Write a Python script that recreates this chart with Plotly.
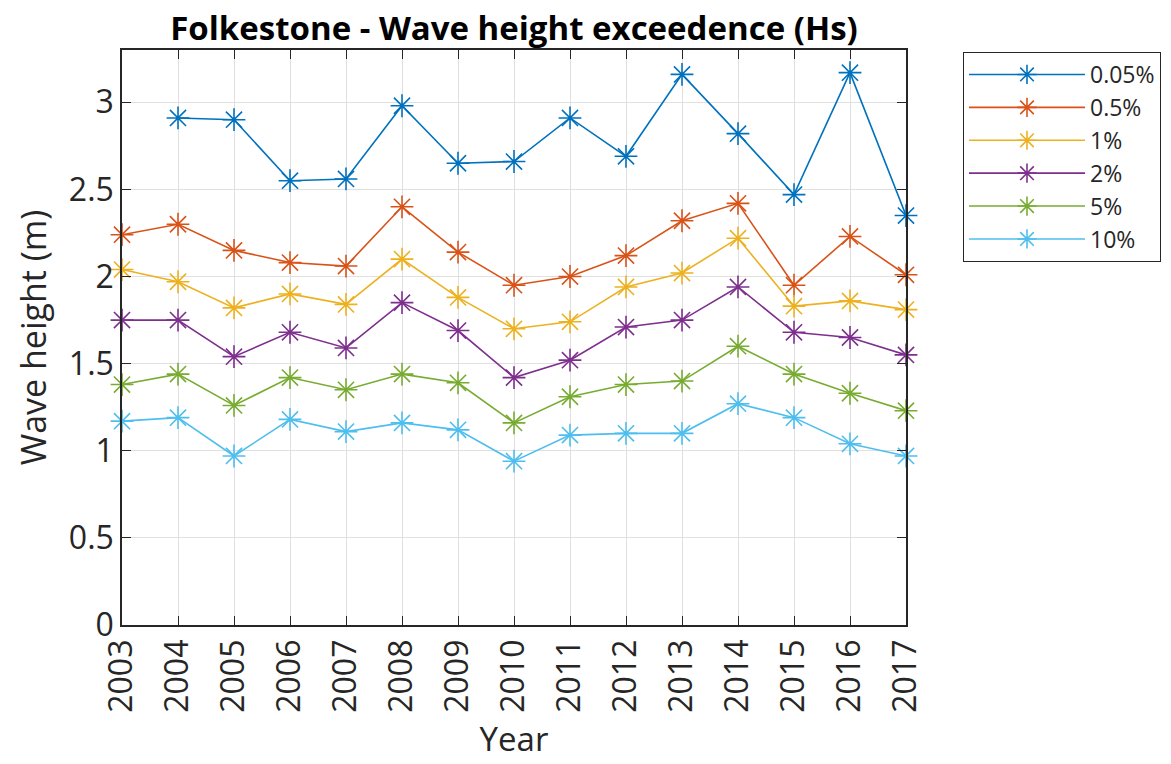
import plotly.graph_objects as go

# Exceedence levels and yearly significant wave heights (m)
years = list(range(2003, 2018))
levels = ["0.05%", "0.5%", "1%", "2%", "5%", "10%"]
hs_0p05 = [None, 2.91, 2.90, 2.55, 2.56, 2.98, 2.65, 2.66, 2.91, 2.69, 3.16, 2.82, 2.47, 3.17, 2.35]
hs_0p5 = [2.24, 2.30, 2.15, 2.08, 2.06, 2.40, 2.14, 1.95, 2.00, 2.12, 2.32, 2.42, 1.95, 2.23, 2.01]
hs_1 = [2.04, 1.97, 1.82, 1.90, 1.84, 2.10, 1.88, 1.70, 1.74, 1.94, 2.02, 2.22, 1.83, 1.86, 1.81]
hs_2 = [1.75, 1.75, 1.54, 1.68, 1.59, 1.85, 1.69, 1.42, 1.52, 1.71, 1.75, 1.94, 1.68, 1.65, 1.55]
hs_5 = [1.38, 1.44, 1.26, 1.42, 1.35, 1.44, 1.39, 1.16, 1.31, 1.38, 1.40, 1.60, 1.44, 1.33, 1.23]
hs_10 = [1.17, 1.19, 0.97, 1.18, 1.11, 1.16, 1.12, 0.94, 1.09, 1.10, 1.10, 1.27, 1.19, 1.04, 0.97]
y_ticks = [0, 0.5, 1, 1.5, 2, 2.5, 3]
y_tick_labels = ["0", "0.5", "1", "1.5", "2", "2.5", "3"]

series = [hs_0p05, hs_0p5, hs_1, hs_2, hs_5, hs_10]
colors = ["#0072BD", "#D95319", "#EDB120", "#7E2F8E", "#77AC30", "#4DBEEE"]

FONT = "'Open Sans', Lato, sans-serif"
AXIS_COLOR = "#262626"

fig = go.Figure()
for i, (name, vals, col) in enumerate(zip(levels, series, colors)):
    fig.add_trace(go.Scatter(
        x=years, y=vals, name=name, mode="lines+markers",
        legendgroup=f"g{i}",
        line=dict(color=col, width=1.6),
        marker=dict(symbol="asterisk-open", size=19, color=col,
                    line=dict(color=col, width=1.6)),
        cliponaxis=False,
    ))

axis_common = dict(
    showline=True, linecolor=AXIS_COLOR, linewidth=1.5, mirror="ticks",
    ticks="inside", ticklen=9, tickwidth=1.2, tickcolor=AXIS_COLOR,
    showgrid=True, gridcolor="#E0E0E0", gridwidth=1, zeroline=False,
    tickfont=dict(family=FONT, size=32, color=AXIS_COLOR),
)

fig.update_xaxes(
    range=[2003, 2017], tickmode="array", tickvals=years,
    ticktext=[str(y) for y in years], tickangle=-90,
    title=dict(text="Year", font=dict(family=FONT, size=33, color=AXIS_COLOR), standoff=16),
    **axis_common,
)
fig.update_yaxes(
    range=[0, 3.3], tickmode="array", tickvals=y_ticks, ticktext=y_tick_labels,
    title=dict(text="Wave height (m)", font=dict(family=FONT, size=34, color=AXIS_COLOR), standoff=12),
    **axis_common,
)

fig.update_layout(
    width=1171, height=764,
    margin=dict(l=122, r=265, t=50, b=139, autoexpand=False),
    paper_bgcolor="white", plot_bgcolor="white",
    title=dict(text="<b>Folkestone - Wave height exceedence (Hs)</b>",
               x=514 / 1171, xanchor="center", y=1 - 28 / 764, yanchor="middle",
               font=dict(family=FONT, size=33, color="#000000")),
    legend=dict(
        x=1.0727, y=0.9965, xanchor="left", yanchor="top",
        bgcolor="white", bordercolor=AXIS_COLOR, borderwidth=1,
        font=dict(family=FONT, size=23, color=AXIS_COLOR),
        tracegroupgap=0, itemwidth=116,
    ),
    showlegend=True,
)

fig.write_html("out.html")
